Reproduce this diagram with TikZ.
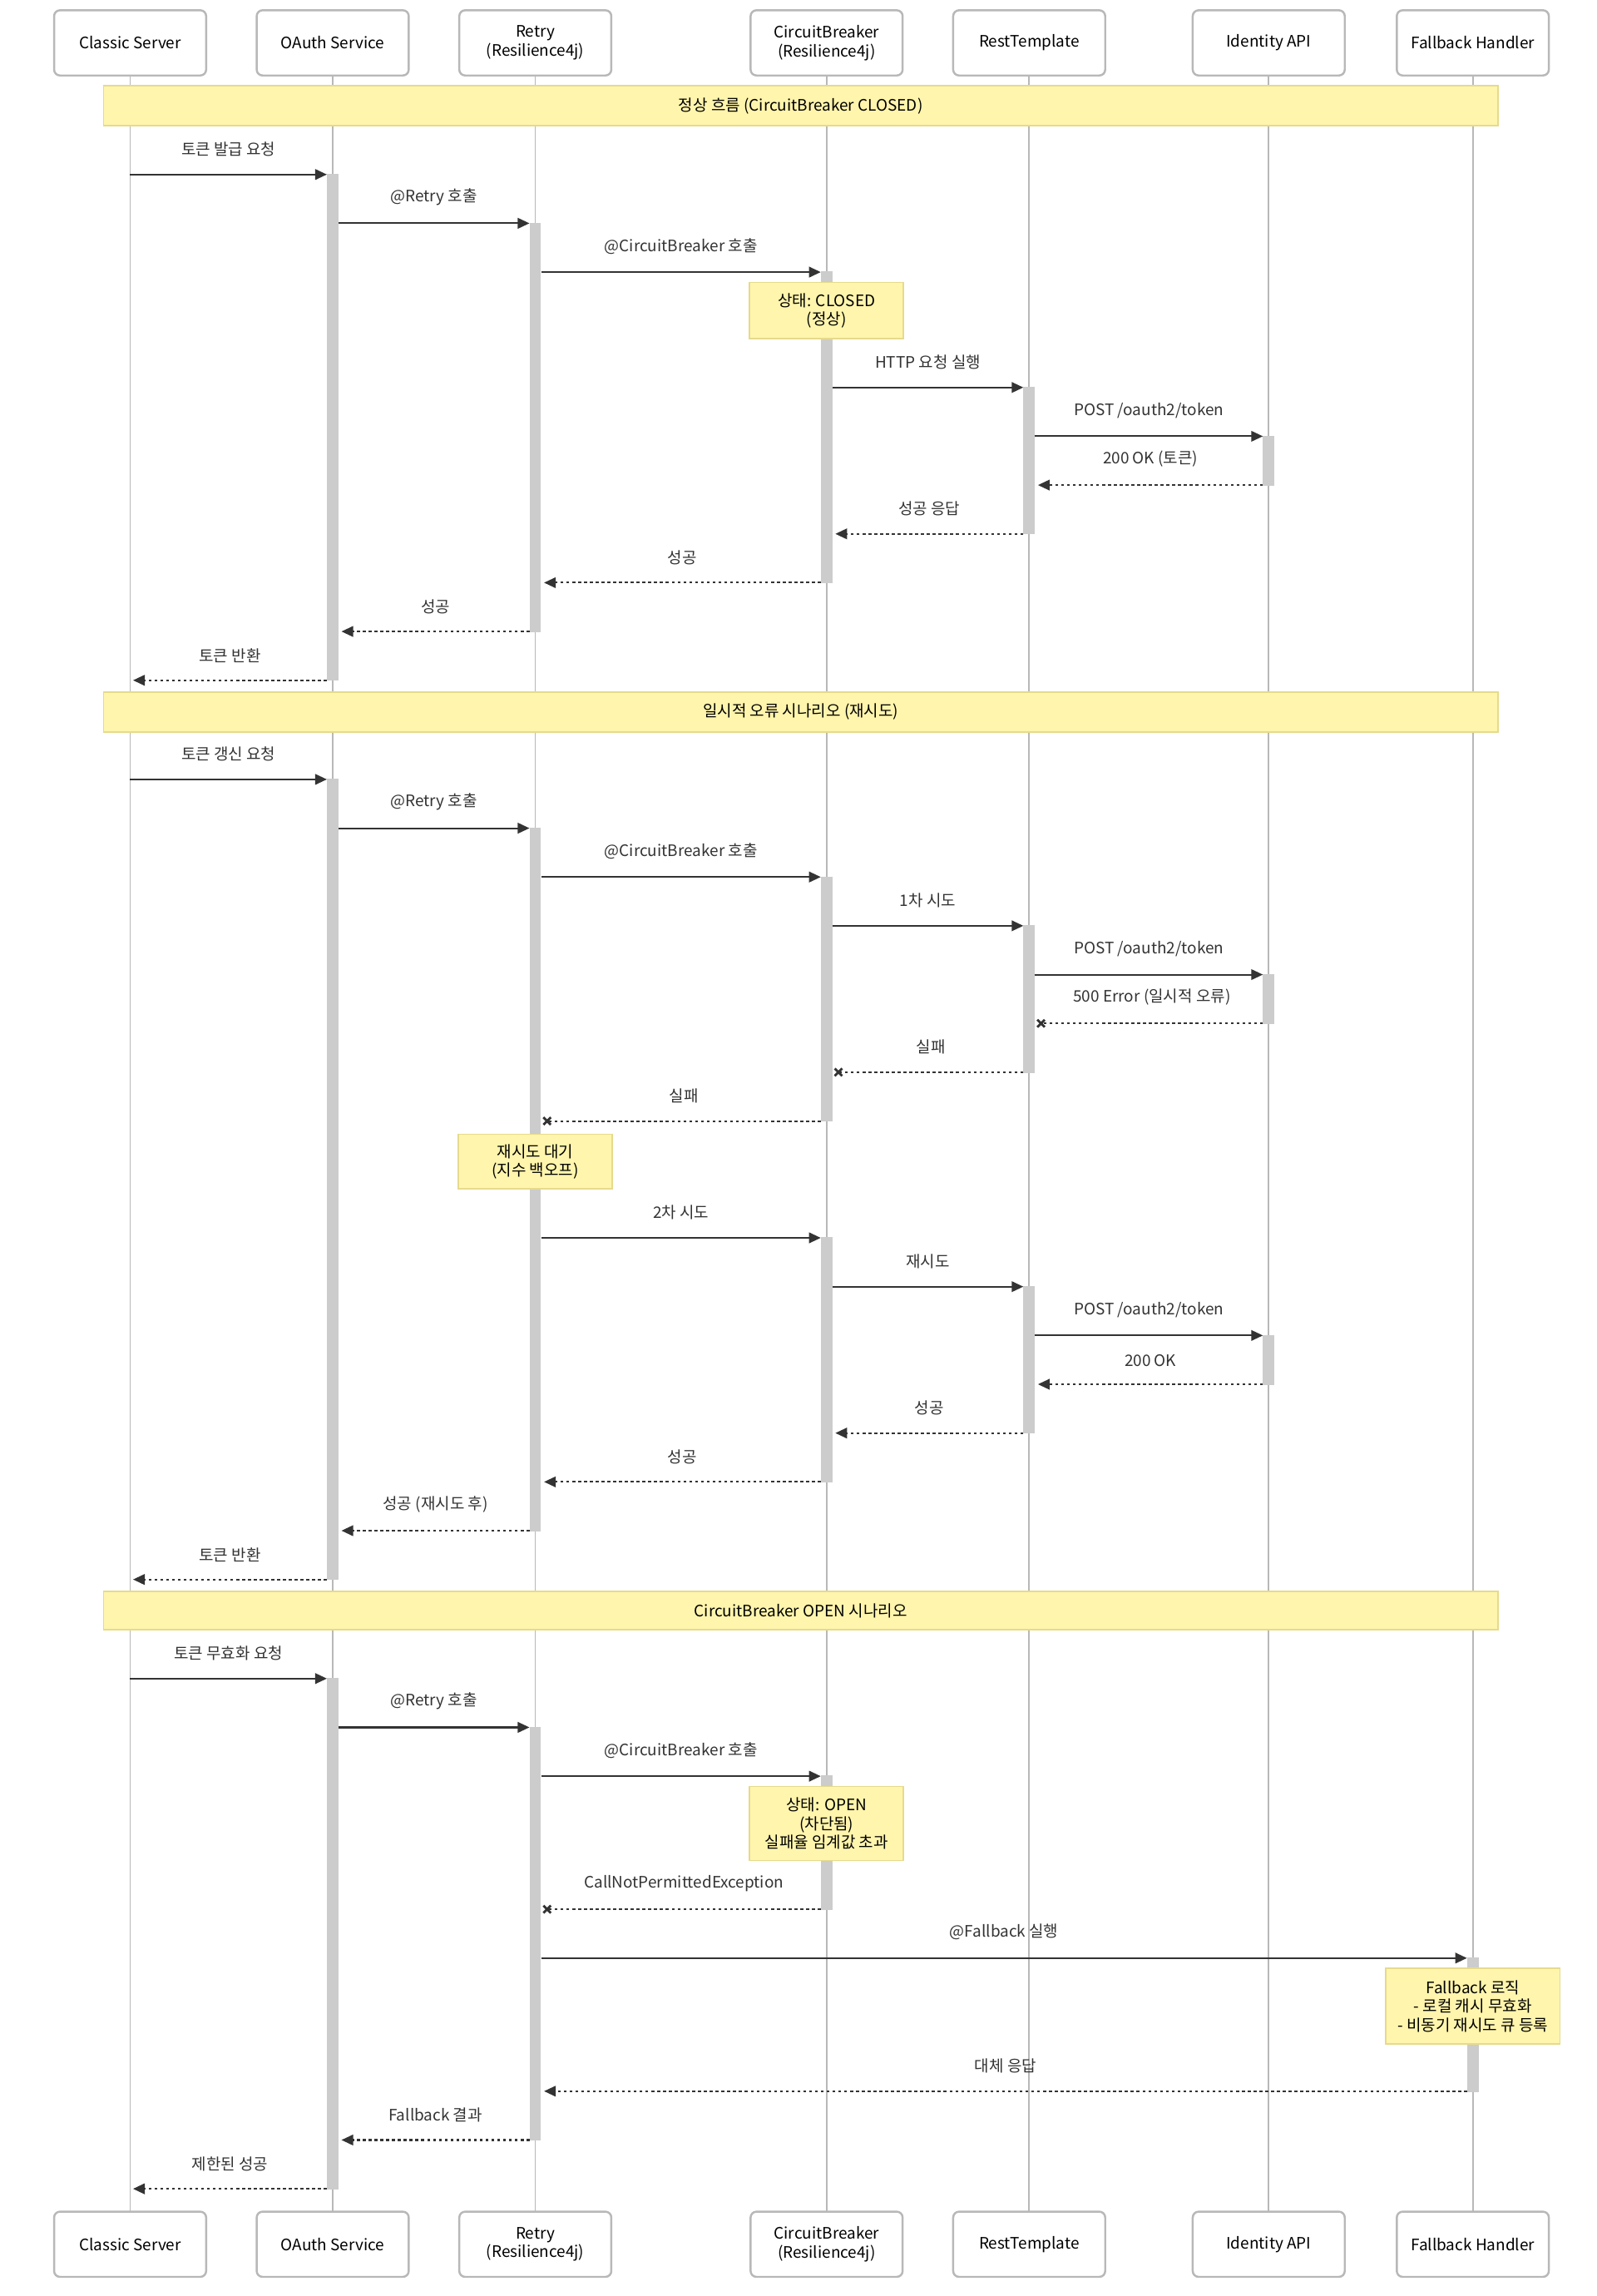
\documentclass[tikz,border=0pt]{standalone}
\usepackage{fontspec}
\setmainfont{Noto Sans CJK KR}
\usepackage{tikz}
\usetikzlibrary{arrows.meta}
\definecolor{notefill}{HTML}{FFF5AD}
\definecolor{notedraw}{HTML}{E6DA8C}
\definecolor{lifegray}{HTML}{B8B8B8}
\definecolor{actgray}{HTML}{CCCCCC}
\definecolor{ink}{HTML}{333333}
\tikzset{
  actor/.style={draw=lifegray, line width=0.7pt, rounded corners=2pt, fill=white, minimum width=52pt, minimum height=22.3pt, align=center, font=\fontsize{5.4}{6.4}\selectfont},
  life/.style={draw=lifegray, line width=0.5pt},
  act/.style={fill=actgray, draw=actgray},
  note/.style={fill=notefill, draw=notedraw, line width=0.5pt},
  notetext/.style={align=center, font=\fontsize{5.4}{6.4}\selectfont},
  call/.style={draw=ink, line width=0.6pt, -{Triangle[length=4pt,width=3.6pt]}},
  reply/.style={draw=ink, line width=0.6pt, dash pattern=on 1pt off 1pt, -{Triangle[length=4pt,width=3.6pt]}},
  lost/.style={draw=ink, line width=0.6pt, dash pattern=on 1pt off 1pt},
  lbl/.style={midway, above=2.5pt, font=\fontsize{5.4}{6.4}\selectfont, text=ink}
}
\newcommand\xmark[1]{\draw[ink, line width=0.8pt] (#1) ++(-2.5,-2.5) -- ++(5,5) (#1) ++(-2.5,2.5) -- ++(5,-5);}
\begin{document}
\begin{tikzpicture}[x=0.017778cm, y=-0.017778cm]
\useasboundingbox (0,0) rectangle (1080,1552.5);
% participants
\foreach \n/\x/\t in {cs/88/Classic Server, oa/225/OAuth Service, rt/362/{Retry\\(Resilience4j)}, cb/559/{CircuitBreaker\\(Resilience4j)}, rst/696/RestTemplate, id/858/Identity API, fb/996/Fallback Handler}{
  \draw[life] (\x,51) -- (\x,1495);
  \node[actor] (\n) at (\x,29) {\t};
  \node[actor] (\n b) at (\x,1517.5) {\t};
}
% group bands
\draw[note] (70,58) rectangle (1013,85);
\node[notetext] (band1) at (541.5,71.5) {정상 흐름 (CircuitBreaker CLOSED)};
\draw[note] (70,468) rectangle (1013,495);
\node[notetext] (band2) at (541.5,481.5) {일시적 오류 시나리오 (재시도)};
\draw[note] (70,1076) rectangle (1013,1102);
\node[notetext] (band3) at (541.5,1089) {CircuitBreaker OPEN 시나리오};
% activations
\foreach \x/\a/\b in {225/118/460, 362/151/427, 559/184/394, 696/262/361, 858/295/328,
  225/527/1068, 362/560/1035, 559/593/758, 696/626/725, 858/659/692, 559/837/1002, 696/870/969, 858/903/936,
  225/1135/1480, 362/1168/1447, 559/1201/1291, 996/1324/1414}
  \draw[act] (\x-3.5,\a) rectangle (\x+3.5,\b);
% flow 1
\draw[call] (cs |- 0,118) -- ([xshift=-2pt]oa |- 0,118) node[lbl] {토큰 발급 요청};
\draw[call] ([xshift=2pt]oa |- 0,151) -- ([xshift=-2pt]rt |- 0,151) node[lbl] {@Retry 호출};
\draw[call] ([xshift=2pt]rt |- 0,184) -- ([xshift=-2pt]cb |- 0,184) node[lbl] {@CircuitBreaker 호출};
\draw[note] (507,191) rectangle (611,229);
\node[notetext] (n1) at (559,210) {상태: CLOSED\\(정상)};
\draw[call] ([xshift=2pt]cb |- 0,262) -- ([xshift=-2pt]rst |- 0,262) node[lbl] {HTTP 요청 실행};
\draw[call] ([xshift=2pt]rst |- 0,295) -- ([xshift=-2pt]id |- 0,295) node[lbl] {POST /oauth2/token};
\draw[reply] ([xshift=-2pt]id |- 0,328) -- ([xshift=3pt]rst |- 0,328) node[lbl] {200 OK (토큰)};
\draw[reply] ([xshift=-2pt]rst |- 0,361) -- ([xshift=3pt]cb |- 0,361) node[lbl] {성공 응답};
\draw[reply] ([xshift=-2pt]cb |- 0,394) -- ([xshift=3pt]rt |- 0,394) node[lbl] {성공};
\draw[reply] ([xshift=-2pt]rt |- 0,427) -- ([xshift=3pt]oa |- 0,427) node[lbl] {성공};
\draw[reply] ([xshift=-2pt]oa |- 0,460) -- ([xshift=1pt]cs |- 0,460) node[lbl] {토큰 반환};
% flow 2
\draw[call] (cs |- 0,527) -- ([xshift=-2pt]oa |- 0,527) node[lbl] {토큰 갱신 요청};
\draw[call] ([xshift=2pt]oa |- 0,560) -- ([xshift=-2pt]rt |- 0,560) node[lbl] {@Retry 호출};
\draw[call] ([xshift=2pt]rt |- 0,593) -- ([xshift=-2pt]cb |- 0,593) node[lbl] {@CircuitBreaker 호출};
\draw[call] ([xshift=2pt]cb |- 0,626) -- ([xshift=-2pt]rst |- 0,626) node[lbl] {1차 시도};
\draw[call] ([xshift=2pt]rst |- 0,659) -- ([xshift=-2pt]id |- 0,659) node[lbl] {POST /oauth2/token};
\coordinate (x1) at (704,692);
\draw[lost] ([xshift=-2pt]id |- 0,692) -- (x1) node[lbl] {500 Error (일시적 오류)};
\xmark{x1}
\coordinate (x2) at (567,725);
\draw[lost] ([xshift=-2pt]rst |- 0,725) -- (x2) node[lbl] {실패};
\xmark{x2}
\coordinate (x3) at (370,758);
\draw[lost] ([xshift=-2pt]cb |- 0,758) -- (x3) node[lbl] {실패};
\xmark{x3}
\draw[note] (310,767) rectangle (414,804);
\node[notetext] (n2) at (362,785.5) {재시도 대기\\(지수 백오프)};
\draw[call] ([xshift=2pt]rt |- 0,837) -- ([xshift=-2pt]cb |- 0,837) node[lbl] {2차 시도};
\draw[call] ([xshift=2pt]cb |- 0,870) -- ([xshift=-2pt]rst |- 0,870) node[lbl] {재시도};
\draw[call] ([xshift=2pt]rst |- 0,903) -- ([xshift=-2pt]id |- 0,903) node[lbl] {POST /oauth2/token};
\draw[reply] ([xshift=-2pt]id |- 0,936) -- ([xshift=3pt]rst |- 0,936) node[lbl] {200 OK};
\draw[reply] ([xshift=-2pt]rst |- 0,969) -- ([xshift=3pt]cb |- 0,969) node[lbl] {성공};
\draw[reply] ([xshift=-2pt]cb |- 0,1002) -- ([xshift=3pt]rt |- 0,1002) node[lbl] {성공};
\draw[reply] ([xshift=-2pt]rt |- 0,1035) -- ([xshift=3pt]oa |- 0,1035) node[lbl] {성공 (재시도 후)};
\draw[reply] ([xshift=-2pt]oa |- 0,1068) -- ([xshift=1pt]cs |- 0,1068) node[lbl] {토큰 반환};
% flow 3
\draw[call] (cs |- 0,1135) -- ([xshift=-2pt]oa |- 0,1135) node[lbl] {토큰 무효화 요청};
\draw[call] ([xshift=2pt]oa |- 0,1168) -- ([xshift=-2pt]rt |- 0,1168) node[lbl] {@Retry 호출};
\draw[call] ([xshift=2pt]rt |- 0,1201) -- ([xshift=-2pt]cb |- 0,1201) node[lbl] {@CircuitBreaker 호출};
\draw[note] (507,1208) rectangle (611,1258);
\node[notetext] (n3) at (559,1233) {상태: OPEN\\(차단됨)\\실패율 임계값 초과};
\coordinate (x4) at (370,1291);
\draw[lost] ([xshift=-2pt]cb |- 0,1291) -- (x4) node[lbl] {CallNotPermittedException};
\xmark{x4}
\draw[call] ([xshift=2pt]rt |- 0,1324) -- ([xshift=-2pt]fb |- 0,1324) node[lbl] {@Fallback 실행};
\draw[note] (937,1331) rectangle (1055,1382);
\node[notetext] (n4) at (996,1356.5) {Fallback 로직\\- 로컬 캐시 무효화\\- 비동기 재시도 큐 등록};
\draw[reply] ([xshift=-2pt]fb |- 0,1414) -- ([xshift=3pt]rt |- 0,1414) node[lbl] {대체 응답};
\draw[reply] ([xshift=-2pt]rt |- 0,1447) -- ([xshift=3pt]oa |- 0,1447) node[lbl] {Fallback 결과};
\draw[reply] ([xshift=-2pt]oa |- 0,1480) -- ([xshift=1pt]cs |- 0,1480) node[lbl] {제한된 성공};
\end{tikzpicture}
\end{document}
